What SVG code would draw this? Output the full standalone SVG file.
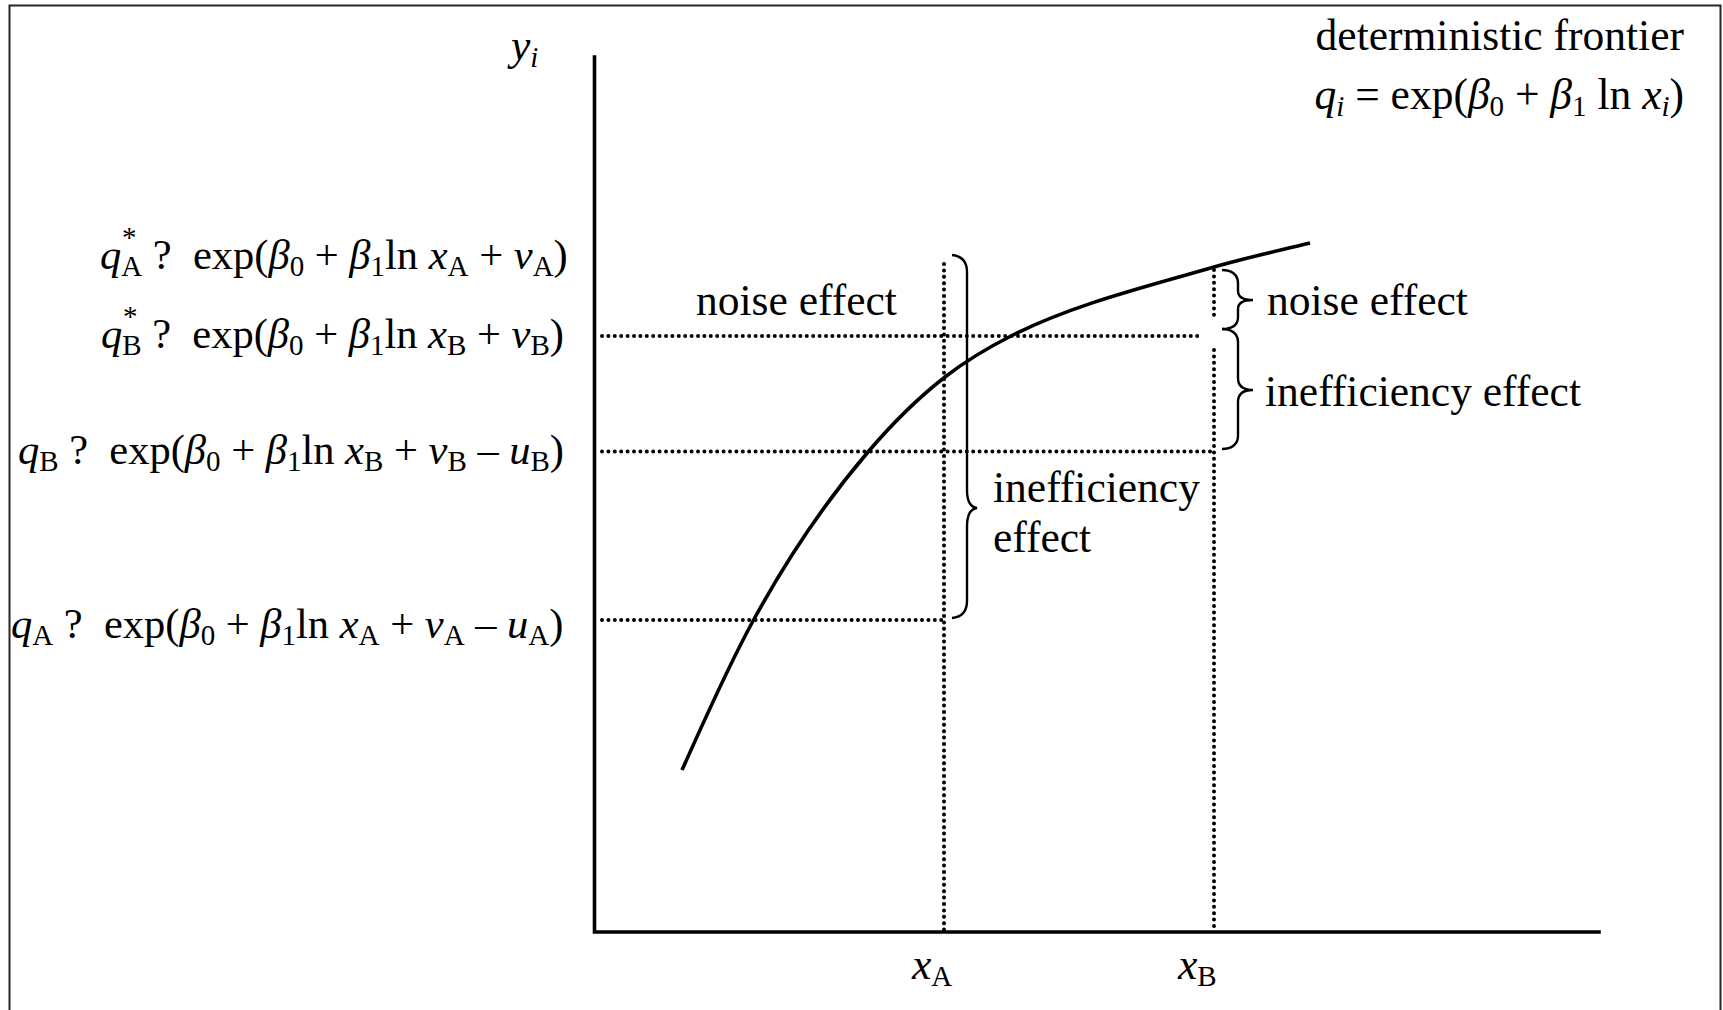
<svg xmlns="http://www.w3.org/2000/svg" width="1723" height="1010" viewBox="0 0 1723 1010">
<style>
text{font-family:"Liberation Serif","Times New Roman",serif;fill:#000;font-size:43.5px}
.eq{font-size:42.5px}
.it{font-style:italic}
.sub{font-size:29px}
.dot{fill:none;stroke:#000;stroke-width:4;stroke-linecap:round;stroke-dasharray:0 6.4}
.axis{fill:none;stroke:#000;stroke-width:3.6;stroke-linecap:square}
.brace{fill:none;stroke:#000;stroke-width:2.4}
</style>
<rect width="1723" height="1010" fill="#fff"/>
<path d="M9.5,1012 V5.5 H1720.5 V1012" fill="none" stroke="#28252f" stroke-width="2"/>

<g id="connectors">
  <path class="axis" d="M594.5,57 V932 H1599"/>
  <path id="frontier" fill="none" stroke="#000" stroke-width="3.6" d="M682,770 C704.6,720 726.6,669.4 753,621 C785.6,561.2 823.8,503.7 868,452 C891.4,424.6 916.6,399 945,377 C965.5,361.1 987.9,347.7 1011,336 C1074.2,304 1145.8,286.9 1214,267 C1245.7,257.8 1278,250.9 1310,243"/>
  <path class="dot" d="M602,336 H1200"/>
  <path class="dot" d="M602,451.5 H1214"/>
  <path class="dot" d="M602,620 H944"/>
  <path class="dot" d="M944,264 V932"/>
  <path class="dot" d="M1214,270 V316"/>
  <path class="dot" d="M1214,350 V932"/>
  <path class="brace" d="M952,255 C962,256 967,262 967,272 L967,490 C967,501 970,507 977,508 C970,509 967,515 967,526 L967,601 C967,611 962,617 952,618"/>
  <path class="brace" d="M1222,270 C1232,270 1238,275 1238,283 L1238,291 C1238,297 1243,300 1253,300 C1243,300 1238,303 1238,309 L1238,317 C1238,325 1232,329 1222,329"/>
  <path class="brace" d="M1222,329 C1232,329 1238,334 1238,342 L1238,378 C1238,386 1243,390 1253,390 C1243,390 1238,394 1238,402 L1238,436 C1238,444 1232,449 1222,449"/>
</g>

<g id="y-label"><text x="511" y="60"><tspan class="it">y</tspan><tspan class="it sub" dy="7">i</tspan></text></g>

<g id="frontier-label">
  <text x="1684" y="50" text-anchor="end">deterministic frontier</text>
  <text x="1684" y="109" text-anchor="end"><tspan class="it">q</tspan><tspan class="it sub" dy="7">i</tspan><tspan dy="-7"> = exp(</tspan><tspan class="it">β</tspan><tspan class="sub" dy="7">0</tspan><tspan dy="-7"> + </tspan><tspan class="it">β</tspan><tspan class="sub" dy="7">1</tspan><tspan dy="-7"> ln </tspan><tspan class="it">x</tspan><tspan class="it sub" dy="7">i</tspan><tspan dy="-7">)</tspan></text>
</g>

<g id="eq-qA-star">
  <text class="eq" x="100" y="269"><tspan class="it">q</tspan><tspan class="sub" dy="7">A</tspan><tspan dy="-7"> ?&#160; exp(</tspan><tspan class="it">β</tspan><tspan class="sub" dy="7">0</tspan><tspan dy="-7"> + </tspan><tspan class="it">β</tspan><tspan class="sub" dy="7">1</tspan><tspan dy="-7">ln </tspan><tspan class="it">x</tspan><tspan class="sub" dy="7">A</tspan><tspan dy="-7"> + </tspan><tspan class="it">v</tspan><tspan class="sub" dy="7">A</tspan><tspan dy="-7">)</tspan></text>
  <text class="sub" x="122" y="247">*</text>
</g>
<g id="eq-qB-star">
  <text class="eq" x="101" y="348"><tspan class="it">q</tspan><tspan class="sub" dy="7">B</tspan><tspan dy="-7"> ?&#160; exp(</tspan><tspan class="it">β</tspan><tspan class="sub" dy="7">0</tspan><tspan dy="-7"> + </tspan><tspan class="it">β</tspan><tspan class="sub" dy="7">1</tspan><tspan dy="-7">ln </tspan><tspan class="it">x</tspan><tspan class="sub" dy="7">B</tspan><tspan dy="-7"> + </tspan><tspan class="it">v</tspan><tspan class="sub" dy="7">B</tspan><tspan dy="-7">)</tspan></text>
  <text class="sub" x="123" y="326">*</text>
</g>
<g id="eq-qB">
  <text class="eq" x="18" y="464"><tspan class="it">q</tspan><tspan class="sub" dy="7">B</tspan><tspan dy="-7"> ?&#160; exp(</tspan><tspan class="it">β</tspan><tspan class="sub" dy="7">0</tspan><tspan dy="-7"> + </tspan><tspan class="it">β</tspan><tspan class="sub" dy="7">1</tspan><tspan dy="-7">ln </tspan><tspan class="it">x</tspan><tspan class="sub" dy="7">B</tspan><tspan dy="-7"> + </tspan><tspan class="it">v</tspan><tspan class="sub" dy="7">B</tspan><tspan dy="-7"> – </tspan><tspan class="it">u</tspan><tspan class="sub" dy="7">B</tspan><tspan dy="-7">)</tspan></text>
</g>
<g id="eq-qA">
  <text class="eq" x="11" y="638"><tspan class="it">q</tspan><tspan class="sub" dy="7">A</tspan><tspan dy="-7"> ?&#160; exp(</tspan><tspan class="it">β</tspan><tspan class="sub" dy="7">0</tspan><tspan dy="-7"> + </tspan><tspan class="it">β</tspan><tspan class="sub" dy="7">1</tspan><tspan dy="-7">ln </tspan><tspan class="it">x</tspan><tspan class="sub" dy="7">A</tspan><tspan dy="-7"> + </tspan><tspan class="it">v</tspan><tspan class="sub" dy="7">A</tspan><tspan dy="-7"> – </tspan><tspan class="it">u</tspan><tspan class="sub" dy="7">A</tspan><tspan dy="-7">)</tspan></text>
</g>

<g id="noise-left"><text x="696" y="315">noise effect</text></g>
<g id="noise-right"><text x="1267" y="315">noise effect</text></g>
<g id="ineff-right"><text x="1265" y="406">inefficiency effect</text></g>
<g id="ineff-left"><text x="993" y="502">inefficiency</text><text x="993" y="552">effect</text></g>

<g id="xA-label"><text x="912" y="979"><tspan class="it">x</tspan><tspan class="sub" dy="7">A</tspan></text></g>
<g id="xB-label"><text x="1178" y="979"><tspan class="it">x</tspan><tspan class="sub" dy="7">B</tspan></text></g>
</svg>
